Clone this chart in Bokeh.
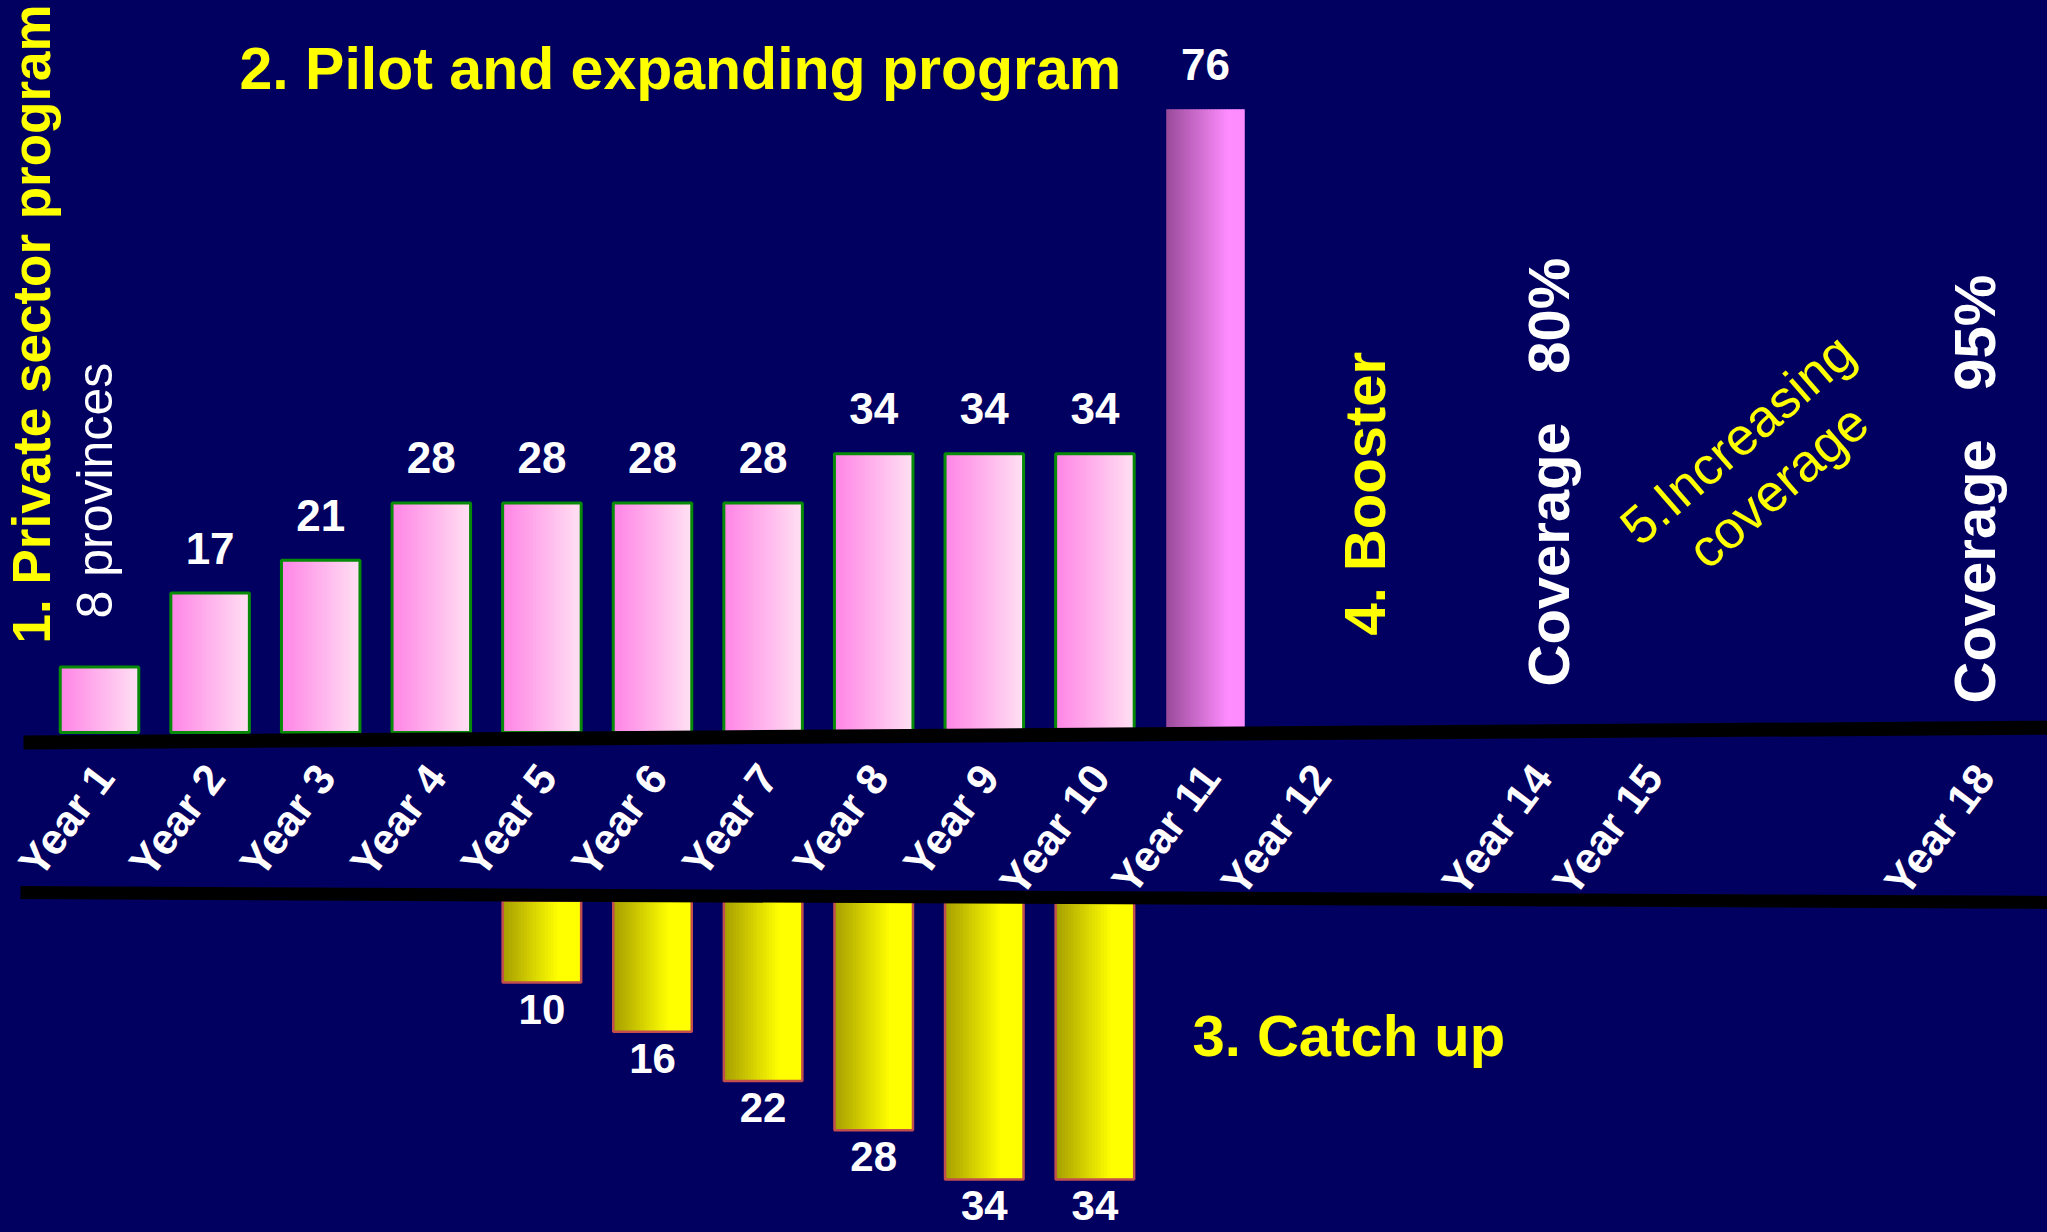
import numpy as np
from bokeh.plotting import figure
from bokeh.models import Range1d
from bokeh.core.properties import value
from bokeh.embed import file_html
from bokeh.resources import INLINE

# ---------------- data ----------------
pilot_years = [1, 2, 3, 4, 5, 6, 7, 8, 9, 10, 11]
pilot_values = [8, 17, 21, 28, 28, 28, 28, 34, 34, 34, 76]
pilot_labels = ["", "17", "21", "28", "28", "28", "28", "34", "34", "34", "76"]

catchup_years = [5, 6, 7, 8, 9, 10]
catchup_values = [10, 16, 22, 28, 34, 34]
catchup_labels = ["10", "16", "22", "28", "34", "34"]

tick_years = [1, 2, 3, 4, 5, 6, 7, 8, 9, 10, 11, 12, 14, 15, 18]
tick_labels = ["Year 1", "Year 2", "Year 3", "Year 4", "Year 5", "Year 6", "Year 7",
               "Year 8", "Year 9", "Year 10", "Year 11", "Year 12", "Year 14",
               "Year 15", "Year 18"]

# ---------------- layout / style ----------------
W, H = 2047, 1232
BG = "#010060"
FONT = value("Liberation Sans")
PXX = 110.6            # pixels per year
PXY = 8.2              # pixels per unit
X0 = 1 - 99 / PXX
X1 = X0 + W / PXX
Y_TOP = 732 / PXY
Y_BOT = -(H - 732) / PXY
CATCH_BASE = -20.5
BAR_W = 0.71
AB = 0.35              # alphabetic-baseline correction (em)

p = figure(width=W, height=H, output_backend="svg", toolbar_location=None,
           x_range=Range1d(X0, X1), y_range=Range1d(Y_BOT, Y_TOP),
           min_border=0, outline_line_color=None,
           background_fill_color=BG, border_fill_color=BG)
p.axis.visible = False
p.grid.visible = False


def hex2rgb(h):
    h = h.lstrip("#")
    return tuple(int(h[i:i + 2], 16) for i in (0, 2, 4))


def lerp_col(c1, c2, f):
    a, b = hex2rgb(c1), hex2rgb(c2)
    return "#%02x%02x%02x" % tuple(int(round(a[i] + (b[i] - a[i]) * f)) for i in range(3))


def gradient(xs, lows, highs, c_left, c_right, n=26, stretch=1.0):
    L, R, B, T, C = [], [], [], [], []
    for x, lo, hi in zip(xs, lows, highs):
        left = x - BAR_W / 2
        step = BAR_W / n
        for k in range(n):
            f = min(1.0, k / (n - 1) * stretch)
            l = left + k * step
            r = min(l + step * 1.35, x + BAR_W / 2)
            L.append(l); R.append(r); B.append(lo); T.append(hi)
            C.append(lerp_col(c_left, c_right, f))
    return dict(left=L, right=R, bottom=B, top=T, color=C)


def px_x(px):
    return X0 + px / PXX


def px_y(py):
    return (732 - py) / PXY


# pink bars (years 1-10)
g = gradient(pilot_years[:-1], [0] * 10, pilot_values[:-1], "#FF86E6", "#FFDFF3")
p.quad(left="left", right="right", bottom="bottom", top="top", fill_color="color",
       line_color=None, source=g)
p.quad(left=[x - BAR_W / 2 for x in pilot_years[:-1]],
       right=[x + BAR_W / 2 for x in pilot_years[:-1]],
       bottom=[0] * 10, top=pilot_values[:-1],
       fill_color=None, line_color="#078A07", line_width=3)

# year 11 bar
g11 = gradient(pilot_years[-1:], [0], pilot_values[-1:], "#9C4C9C", "#FF8CFF", stretch=1.25)
p.quad(left="left", right="right", bottom="bottom", top="top", fill_color="color",
       line_color=None, source=g11)

# catch-up bars (downward)
lows = [CATCH_BASE - v for v in catchup_values]
gy = gradient(catchup_years, lows, [CATCH_BASE] * 6, "#A8A000", "#FFFF00", stretch=1.4)
p.quad(left="left", right="right", bottom="bottom", top="top", fill_color="color",
       line_color=None, source=gy)
p.quad(left=[x - BAR_W / 2 for x in catchup_years],
       right=[x + BAR_W / 2 for x in catchup_years],
       bottom=lows, top=[CATCH_BASE] * 6,
       fill_color=None, line_color="#C24E4E", line_width=2.5)

# thick black dividing lines (slightly tilted as in the slide)
p.segment(x0=[px_x(23)], y0=[px_y(742)], x1=[X1 + 0.2], y1=[px_y(727)],
          line_color="black", line_width=14, line_cap="butt")
p.segment(x0=[px_x(20)], y0=[px_y(892)], x1=[X1 + 0.2], y1=[px_y(902)],
          line_color="black", line_width=13, line_cap="butt")

# value labels
p.text(x=pilot_years, y=pilot_values, text=pilot_labels, text_align="center",
       text_baseline="alphabetic", y_offset=-45, text_color="white",
       text_font=FONT, text_font_style="bold", text_font_size="44px")
p.text(x=catchup_years, y=lows, text=catchup_labels, text_align="center",
       text_baseline="top", y_offset=12, text_color="white",
       text_font=FONT, text_font_style="bold", text_font_size="42px")

# year tick labels
p.text(x=tick_years, y=[0] * len(tick_years), text=tick_labels,
       angle=np.radians(53), text_align="right", text_baseline="middle",
       x_offset=5, y_offset=37, text_color="white",
       text_font=FONT, text_font_style="bold", text_font_size="43px")

YEL = "#FFFF00"
# annotations
p.text(x=[px_x(239)], y=[px_y(89)], text=["2. Pilot and expanding program"],
       text_align="left", text_baseline="alphabetic", y_offset=-AB * 59,
       text_color=YEL, text_font=FONT, text_font_style="bold", text_font_size="59px")
p.text(x=[px_x(50)], y=[px_y(643)], text=["1. Private sector program"], angle=np.pi / 2,
       text_align="left", text_baseline="alphabetic", x_offset=-AB * 53,
       text_color=YEL, text_font=FONT, text_font_style="bold", text_font_size="53px")
p.text(x=[px_x(112)], y=[px_y(618)], text=["8 provinces"], angle=np.pi / 2,
       text_align="left", text_baseline="alphabetic", x_offset=-AB * 50,
       text_color="white", text_font=FONT, text_font_size="50px")
p.text(x=[px_x(1384)], y=[px_y(635)], text=["4. Booster"], angle=np.pi / 2,
       text_align="left", text_baseline="alphabetic", x_offset=-AB * 58,
       text_color=YEL, text_font=FONT, text_font_style="bold", text_font_size="58px")
p.text(x=[px_x(1568), px_x(1994)], y=[px_y(686), px_y(703)],
       text=["Coverage\u00a0\u00a0\u00a080%", "Coverage\u00a0\u00a0\u00a095%"],
       angle=np.pi / 2, text_align="left", text_baseline="alphabetic", x_offset=-AB * 58,
       text_color="white", text_font=FONT, text_font_style="bold",
       text_font_size="58px")
p.text(x=[px_x(1192)], y=[px_y(1055)], text=["3. Catch up"], text_align="left",
       text_baseline="alphabetic", y_offset=-AB * 58, text_color=YEL, text_font=FONT,
       text_font_style="bold", text_font_size="58px")
p.text(x=[px_x(1757)], y=[px_y(462)], text=["5.Increasing\ncoverage"], angle=np.radians(41),
       text_align="center", text_baseline="middle", text_line_height=1.05,
       text_color=YEL, text_font=FONT, text_font_size="53px")

html = file_html(p, INLINE)
i = html.find("</head>")
j = html.find("<body", i)
if j >= 0:
    html = (html[:j] + '<body style="background-color:%s;margin:0;padding:0;overflow:hidden"' % BG
            + html[j + 5:])
open("out.html", "w").write(html)
